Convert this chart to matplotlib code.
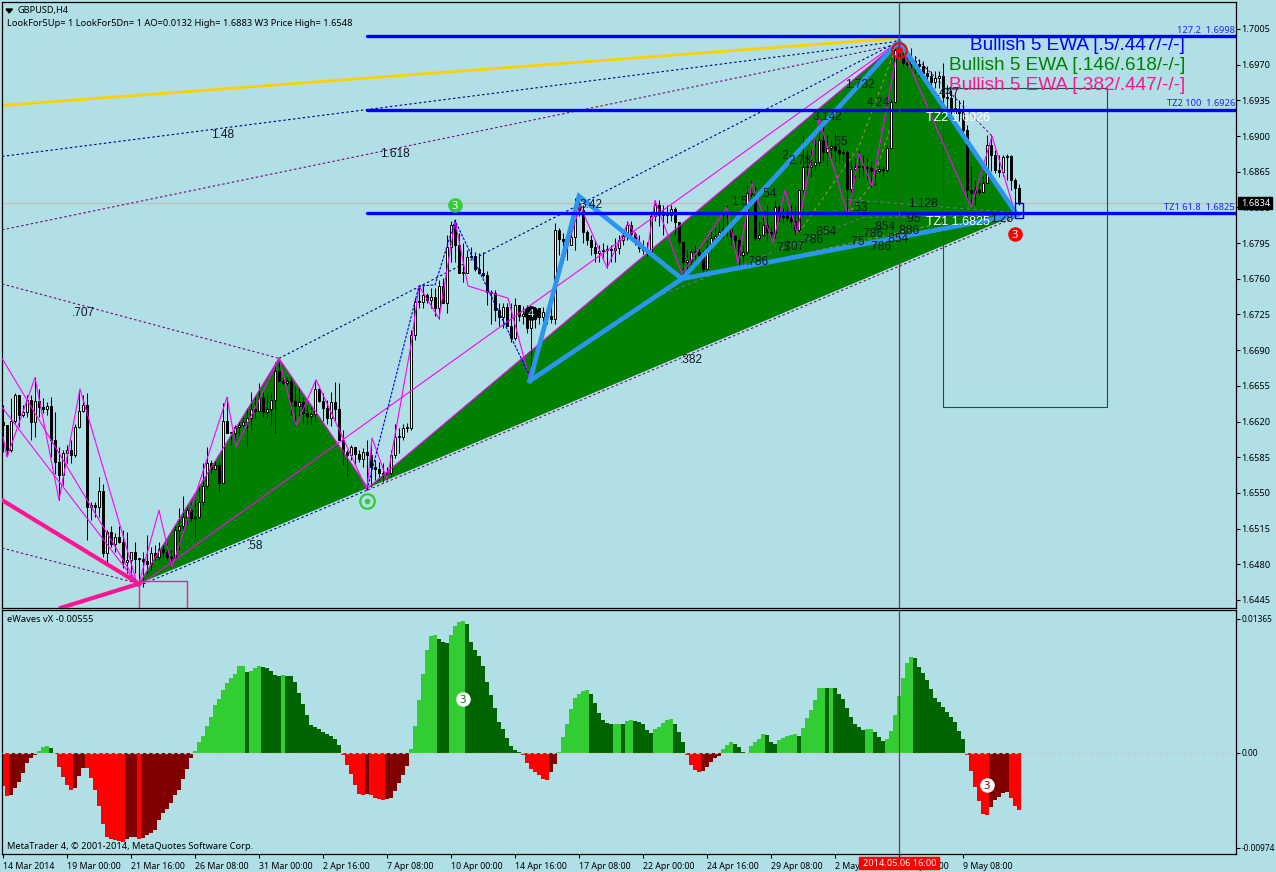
import matplotlib
matplotlib.use("Agg")
import matplotlib.pyplot as plt
from matplotlib.patches import Rectangle
import numpy as np

# ---- data: GBPUSD H4 candles, prices x 10000 ----
closes = [
16617,16592,16621,16646,16626,16629,16641,16620,16640,16634,
16632,16635,16602,16580,16568,16589,16592,16587,16615,16630,
16636,16536,16538,16536,16552,16491,16512,16500,16507,16502,
16482,16484,16492,16485,16485,16483,16480,16491,16487,16495,
16492,16487,16486,16514,16518,16526,16533,16525,16526,16541,
16557,16579,16573,16577,16560,16621,16609,16609,16615,16617,
16620,16623,16632,16630,16643,16629,16632,16641,16670,16660,
16658,16660,16640,16635,16639,16628,16625,16627,16652,16640,
16633,16623,16639,16632,16602,16590,16587,16595,16588,16583,
16590,16587,16575,16573,16570,16569,16570,16587,16605,16605,
16614,16614,16705,16737,16737,16744,16739,16742,16731,16753,
16736,16791,16813,16793,16766,16766,16781,16782,16770,16766,
16764,16747,16746,16729,16723,16732,16714,16702,16734,16724,
16724,16712,16721,16731,16723,16727,16724,16721,16808,16799,
16797,16793,16801,16830,16827,16806,16798,16791,16785,16787,
16788,16789,16788,16790,16798,16802,16813,16804,16796,16790,
16788,16787,16822,16832,16823,16825,16823,16828,16816,16796,
16776,16778,16786,16786,16783,16770,16791,16800,16802,16806,
16809,16809,16802,16798,16783,16786,16844,16843,16800,16803,
16813,16806,16805,16830,16821,16822,16820,16817,16808,16847,
16870,16870,16872,16875,16896,16884,16888,16890,16886,16883,
16884,16848,16868,16870,16871,16870,16869,16866,16866,16868,
16867,16888,16933,16984,16979,16972,16971,16974,16971,16969,
16962,16959,16953,16957,16959,16938,16937,16928,16923,16924,
16906,16847,16844,16847,16845,16854,16891,16881,16867,16865,
16879,16880,16857,16849,16834]
highs = [
16636,16617,16643,16648,16646,16636,16646,16646,16664,16652,
16643,16639,16644,16629,16595,16592,16597,16602,16618,16651,
16646,16648,16541,16541,16566,16559,16514,16518,16511,16518,
16514,16512,16492,16502,16485,16492,16509,16497,16499,16502,
16499,16502,16494,16518,16535,16547,16536,16540,16543,16558,
16579,16595,16582,16581,16580,16638,16644,16609,16617,16621,
16624,16633,16649,16644,16658,16649,16646,16649,16678,16682,
16663,16664,16663,16655,16653,16644,16636,16634,16661,16653,
16648,16641,16649,16659,16658,16612,16592,16597,16595,16592,
16594,16602,16597,16582,16580,16579,16575,16592,16618,16614,
16618,16619,16710,16741,16753,16753,16746,16751,16751,16759,
16761,16803,16817,16819,16805,16795,16788,16791,16786,16785,
16786,16768,16749,16749,16736,16736,16736,16736,16741,16732,
16733,16734,16729,16732,16731,16732,16732,16734,16815,16810,
16805,16805,16808,16839,16837,16832,16808,16803,16798,16793,
16795,16793,16793,16800,16803,16808,16817,16817,16806,16803,
16798,16796,16824,16837,16837,16832,16832,16832,16830,16815,
16796,16788,16790,16793,16790,16788,16798,16806,16810,16815,
16825,16832,16812,16803,16800,16793,16852,16857,16851,16817,
16822,16832,16815,16837,16832,16829,16830,16832,16832,16847,
16900,16886,16886,16906,16911,16915,16901,16896,16903,16891,
16888,16886,16876,16878,16886,16881,16878,16876,16871,16871,
16871,16891,16935,16994,16993,16984,16984,16986,16979,16976,
16974,16969,16964,16964,16964,16972,16950,16945,16940,16935,
16935,16911,16871,16857,16854,16861,16901,16901,16886,16881,
16881,16882,16881,16859,16853]
lows = [
16590,16587,16590,16619,16615,16624,16624,16602,16605,16624,
16628,16626,16585,16569,16543,16558,16579,16579,16585,16614,
16629,16504,16523,16526,16526,16487,16479,16497,16492,16501,
16476,16471,16468,16471,16458,16458,16470,16474,16484,16484,
16487,16484,16477,16487,16494,16514,16520,16521,16506,16526,
16538,16555,16570,16572,16551,16560,16609,16597,16602,16607,
16615,16595,16612,16623,16638,16624,16623,16618,16609,16659,
16656,16656,16626,16616,16624,16618,16618,16618,16621,16639,
16621,16618,16616,16621,16602,16577,16567,16582,16577,16580,
16575,16553,16556,16563,16563,16561,16563,16566,16584,16589,
16602,16610,16612,16700,16731,16731,16736,16731,16724,16721,
16736,16726,16776,16776,16766,16757,16773,16780,16768,16765,
16762,16734,16716,16719,16714,16712,16714,16698,16700,16719,
16716,16707,16662,16712,16716,16717,16716,16717,16716,16783,
16780,16778,16793,16788,16822,16795,16793,16783,16776,16776,
16780,16771,16776,16776,16784,16793,16798,16798,16793,16786,
16784,16782,16788,16817,16812,16803,16815,16817,16803,16793,
16763,16763,16768,16772,16778,16763,16770,16786,16793,16798,
16800,16802,16793,16788,16773,16776,16783,16840,16798,16798,
16803,16798,16798,16800,16817,16815,16817,16810,16803,16806,
16845,16859,16860,16866,16871,16876,16871,16878,16876,16874,
16876,16822,16839,16859,16859,16861,16857,16849,16852,16864,
16861,16864,16889,16933,16972,16969,16966,16964,16962,16959,
16957,16950,16947,16947,16947,16920,16925,16915,16913,16915,
16901,16837,16832,16832,16842,16845,16855,16866,16864,16860,
16861,16857,16847,16824,16832]
first_open = 16620

# ---- eWaves oscillator, in units of 3.4e-5 ----
osc_unit = 3.4e-5
osc_values = [
-100,-130,-128,-107,-88,-62,-32,-17,-7,5,
17,19,13,-5,-43,-73,-98,-113,-107,-70,
-45,-47,-77,-113,-160,-215,-254,-260,-262,-265,
-268,-260,-254,-252,-258,-256,-247,-240,-232,-202,
-182,-169,-152,-127,-113,-80,-50,-17,6,31,
49,79,106,142,160,187,208,223,235,259,
260,241,245,253,259,256,255,244,232,229,
232,231,229,211,178,145,112,82,76,70,
61,55,49,40,22,-7,-38,-65,-97,-125,
-127,-125,-127,-137,-140,-143,-140,-137,-116,-92,
-68,-41,10,79,157,235,307,349,352,340,
331,330,352,379,391,394,385,331,307,289,
259,211,172,133,91,70,43,19,7,3,
-7,-30,-48,-59,-68,-80,-81,-59,-35,2,
46,85,130,163,175,184,187,175,148,118,
97,88,85,86,87,86,94,97,96,91,
85,67,58,70,76,88,97,100,85,61,
31,-7,-38,-53,-59,-56,-44,-29,-17,-10,
10,22,31,25,16,1,-2,19,31,40,
55,52,31,25,37,43,49,52,55,49,
73,103,127,157,193,194,193,194,193,175,
160,133,106,85,76,67,70,71,61,46,
34,40,64,112,169,223,268,286,283,256,
238,217,190,163,151,136,121,106,91,64,
40,-7,-56,-104,-146,-185,-188,-164,-143,-134,
-122,-119,-137,-161,-173]

# ---- tick labels ----
date_labels = ["14 Mar 2014","19 Mar 00:00","21 Mar 16:00","26 Mar 08:00","31 Mar 00:00",
               "2 Apr 16:00","7 Apr 08:00","10 Apr 00:00","14 Apr 16:00","17 Apr 08:00",
               "22 Apr 00:00","24 Apr 16:00","29 Apr 08:00","2 May 00:00","6 May 16:00","9 May 08:00"]
price_ticks = [16445 + 35*k for k in range(17)]
osc_ticks = [0.01365, 0.0, -0.00974]
osc_ticklabels = ["0.01365", "0.00", "-0.00974"]

# ---- pattern anchors (bar index, price x 10000) ----
tri1_bar = [34, 69, 91.25];        tri1_p = [16461, 16682, 16555]
tri2_bar = [91.25, 224, 253.5];    tri2_p = [16555, 16993, 16823]
wave_bar = [131.75, 144, 169.75, 224, 253.5, 169.75, 131.75]
wave_p   = [16660, 16841, 16760, 16993, 16823, 16760, 16660]
zig_bar = [0,1,8,14,19.25,33.75,39,42.25,56,58.25,69,73.25,78.25,91,92.25,96,102,104,109,113,
           116.25,126.25,131.5,144.25,151,156.25,161,163,169.75,181,183.75,187.25,192.5,195.5,
           198.5,204,211.25,214,217.25,224,242,247.25,253]
zig_p = [16605,16585,16663,16543,16652,16458,16533,16477,16644,16595,16682,16616,16661,16553,
         16604,16563,16695,16753,16721,16817,16753,16741,16664,16832,16771,16815,16785,16837,
         16765,16830,16775,16854,16795,16847,16805,16917,16822,16883,16851,16993,16830,16900,16825]
thin_bar = [91, 104, 108, 113, 131.75]
thin_p = [16553, 16753, 16754, 16817, 16664]
level_prices = [16998, 16926, 16825]
current_price = 16834

plt.rcParams['font.family'] = ['Noto Sans', 'DejaVu Sans']
BG = "#B0E0E6"
W, H = 1276, 872
fig = plt.figure(figsize=(W/100, H/100), dpi=100, facecolor=BG)

def box(l, t, r, b):
    return [l/W, 1-b/H, (r-l)/W, (b-t)/H]

ax1 = fig.add_axes(box(2, 2, 1236, 608), facecolor=BG)
ax2 = fig.add_axes(box(2, 610, 1236, 854), facecolor=BG)
XLIM = (-0.25, 308.25)
SC = 10196/1e4  # pixels per price unit x 1e4
top_p = 17005 + (29-2)/SC
bot_p = 17005 - (608-29)/SC
ax1.set_xlim(*XLIM); ax1.set_ylim(bot_p, top_p)
ax2.set_xlim(*XLIM); ax2.set_ylim(-(854-752.5)*1.02e-4, (752.5-610)*1.02e-4)

closes_a = np.array(closes, float)
opens_a = np.r_[first_open, closes_a[:-1]]
highs_a = np.maximum.reduce([np.array(highs, float), opens_a, closes_a])
lows_a = np.minimum.reduce([np.array(lows, float), opens_a, closes_a])
bars = np.arange(len(closes_a))

ax1.axhline(current_price, color="#C4BEBE", lw=1, zorder=1)
ax1.fill(tri1_bar, tri1_p, color="#008000", lw=0, zorder=1.5)
ax1.fill(tri2_bar, tri2_p, color="#008000", lw=0, zorder=1.5)

def ln(bx, py, color, lw=1, ls='-', z=2.5):
    ax1.plot(bx, py, color=color, lw=lw, ls=ls, zorder=z, solid_capstyle='round')

dots = (0, (2.2, 2.2))
ln([-0.25, 224], [16930, 16996], "#FFD000", 2.0)
ln([-0.25, 224], [16880, 16993], "#000080", 0.8, dots)
ln([-0.25, 224], [16808, 16990], "#800080", 0.8, dots)
ln([-0.25, 69], [16755, 16682], "#800080", 0.8, dots)
ln([69, 224], [16682, 16993], "#000080", 0.8, dots)
ln([-0.25, 34], [16496, 16461], "#800080", 0.8, dots)
ln([34, 91.25], [16459, 16553], "#0000A0", 0.8, dots)
ln([91.25, 253.5], [16553, 16821], "#800080", 0.8, dots)
ln([228, 247.25], [16978, 16900], "#800080", 0.8, dots)
ln([199, 214, 223], [16805, 16890, 16985], "#A08A50", 0.8, (0,(3,3)))
ln([211, 217, 222], [16822, 16852, 16910], "#A08A50", 0.8, (0,(3,3)))
ln([174, 235], [16762, 16815], "#A08A50", 0.8, (0,(3,3)))
ln([211, 230, 253], [16838, 16832, 16825], "#6A6A8A", 0.8, (0,(3,3)))
ln([165, 215, 253], [16745, 16820, 16823], "#6A6A8A", 0.8, (0,(3,3)))

# candles
ax1.vlines(bars, lows_a, highs_a, color="black", lw=0.75, zorder=3)
up = closes_a >= opens_a
hgt = np.maximum(np.abs(closes_a-opens_a), 1.0)
base = np.minimum(opens_a, closes_a)
ax1.bar(bars, hgt, bottom=base, width=0.5, color=np.where(up, "white", "black").tolist(),
        edgecolor="black", linewidth=0.7, zorder=3.2)

# magenta structure
ln([-0.25, 33.75], [16682, 16460], "#FF00FF", 0.8, z=4)
ln([-0.25, 33.75], [16634, 16460], "#FF00FF", 0.8, z=4)
ln([34, 224], [16459, 16993], "#FF00FF", 0.8, z=4)
ln([91.25, 224], [16555, 16993], "#FF00FF", 0.8, z=4)
ln(zig_bar, zig_p, "#FF00FF", 0.8, z=4)
ln(tri1_bar[:2], tri1_p[:2], "#FF00FF", 0.8, z=4)
ln(tri1_bar[1:], tri1_p[1:], "#FF00FF", 0.8, z=4)
ln(thin_bar, thin_p, "#0000E0", 0.8, (0,(2.5,1.2)), z=4)
ln([-0.25, 34], [16543, 16461], "#FF1493", 3.0, z=4.5)
ln([14.25, 34], [16437, 16461], "#FF1493", 3.0, z=4.5)
ax1.add_patch(Rectangle((34, 16430), 12, 16464-16430, fill=False, ec="#FF1493", lw=1, zorder=4))
ax1.add_patch(Rectangle((235, 16634), 41, 16947-16634, fill=False, ec="#0B5A38", lw=0.8, zorder=2.4))
ax1.plot(wave_bar, wave_p, color="#2A96F0", lw=3.4, zorder=5, solid_joinstyle='miter')
ax1.add_patch(Rectangle((253, 16820), 2, 14, fill=False, ec="#0000C0", lw=1, zorder=6))
for lv in level_prices:
    ln([91, 308.25], [lv, lv], "#0000FF", 2.4, z=6)

# cursor
for a in (ax1, ax2):
    a.axvline(224, color="#8A3030", lw=0.9, zorder=7)

# icons
def icon(a, x, y, fc, ec, size, txt=None, tc="white", ew=0):
    a.plot([x], [y], 'o', ms=size, mfc=fc, mec=ec, mew=ew, zorder=8)
    if txt:
        a.text(x, y, txt, color=tc, fontsize=8, fontweight='bold', ha='center', va='center_baseline', zorder=9)

icon(ax1, 113, 16832, "#32CD32", "#32CD32", 10.5, "3")
icon(ax1, 91, 16542, "none", "#32CD32", 10.5, ew=1.6)
icon(ax1, 91, 16542, "#32CD32", "#32CD32", 4)
icon(ax1, 253, 16804, "#FF0000", "#FF0000", 10.5, "3")
icon(ax1, 224, 16984, "none", "#FF0000", 10.5, ew=1.5)
icon(ax1, 224, 16984, "#FF0000", "#FF0000", 5)
icon(ax1, 132, 16726, "#000000", "#000000", 10.5, "4", tc="#B8E8F0")
icon(ax2, 115, 0.00546, "white", "white", 10.5, "3", tc="#008000")
icon(ax2, 246, -0.00332, "white", "white", 10.5, "3", tc="#A00000")

# oscillator
osc = np.array(osc_values) * osc_unit
prev = np.r_[osc[0]+1, osc[:-1]]
def ocol(v, p):
    if v >= 0:
        return "#32CD32" if v > p else "#006400"
    return "#FF0000" if v < p else "#800000"
ax2.bar(np.arange(len(osc)), osc, width=1.0, color=[ocol(v, p) for v, p in zip(osc, prev)],
        linewidth=0, antialiased=False, zorder=2)
ax2.axhline(0, color="#C8C8C8", lw=0.9, ls=(0, (2.5, 2.5)), zorder=3)

# axes styling
small = 6.6
for a in (ax1, ax2):
    for s in a.spines.values():
        s.set_linewidth(0.9); s.set_color("black")
    a.yaxis.tick_right()
    a.tick_params(axis='y', length=3, width=0.8, pad=1, labelsize=small, direction='out', colors='black')
ax2.tick_params(axis='y', labelsize=6.0)
ax1.set_xticks([])
ax1.set_yticks(price_ticks)
ax1.set_yticklabels([f"{p/1e4:.4f}" for p in price_ticks])
ax2.set_yticks(osc_ticks)
ax2.set_yticklabels(osc_ticklabels)
ax2.get_yticklabels()[1].set_fontweight('bold')
date_pos = np.arange(len(date_labels)) * 16
ax2.set_xticks(date_pos)
ax2.set_xticklabels(date_labels, ha='left')
ax2.tick_params(axis='x', length=3, width=0.8, pad=3, labelsize=6.35)

# text, placed on the canvas
def T(px, py, s, size=small, color="black", ha='left', fam=None, z=20, **kw):
    fig.text(px/W, 1-py/H, s, fontsize=size, color=color, ha=ha, va='center',
             family=fam or ['Noto Sans', 'DejaVu Sans'], zorder=z, **kw)

T(18, 10.5, "GBPUSD,H4")
fig.patches.append(plt.Polygon([(6/W, 1-9/H), (12.5/W, 1-9/H), (9.2/W, 1-13/H)], closed=True,
                               color="black", transform=fig.transFigure))
T(7, 23.5, "LookFor5Up= 1 LookFor5Dn= 1 AO=0.0132 High= 1.6883 W3 Price High= 1.6548", size=6.7)
T(7, 619.5, "eWaves vX -0.00555", size=6.7)
T(7, 846, "MetaTrader 4, © 2001-2014, MetaQuotes Software Corp.", size=6.7)

AR = 'Liberation Sans'
for s, y, c in [("Bullish 5 EWA [.5/.447/-/-]", 45.5, "#0000FF"),
                ("Bullish 5 EWA [.146/.618/-/-]", 65.5, "#008000"),
                ("Bullish 5 EWA [.382/.447/-/-]", 85.5, "#FF1493")]:
    T(1185, y, s, size=13.7, color=c, ha='right', fam=AR)

for s, y in [("127.2  1.6998", 30.5), ("TZ2 100  1.6926", 103), ("TZ1 61.8  1.6825", 207.5)]:
    T(1235, y, s, size=6.7, color="#2020FF", ha='right')

labels = [("1.48",223,135),("1.618",395,154),(".707",83,313),(".58",255,546),(".382",691,360),
          ("3.42",591,205),("1.5",739,202),(".54",769,194),("1.732",860,85),("4.24",878,103),
          ("3.142",827,117),(".65",840,142),("2",785,156),("2.78",800,161),(".53",860,208),
          ("1.128",923,204),(".95",913,219),("1.28",1002,219),(".854",825,232),(".854",884,227),
          (".786",812,240),(".786",872,234),(".786",880,247),(".886",908,231),(".854",897,239),
          (".75",857,242),(".707",793,247),(".75",783,248),(".786",757,262),(".447",948,93)]
for s, x, y in labels:
    T(x, y, s, size=8.6, color="#101828", ha='center', fam=AR)
T(958, 118, "TZ2 1.6926", size=9, color="white", ha='center', fam=AR, z=21)
T(958, 222, "TZ1 1.6825", size=9, color="white", ha='center', fam=AR, z=21)

# price and time flags
fig.patches.append(Rectangle((1238/W, 1-209.5/H), 34/W, 12/H, color="black", transform=fig.transFigure))
T(1241, 203.5, f"{current_price/1e4:.4f}", color="white")
fig.patches.append(Rectangle((859/W, 1-869/H), 80/W, 12/H, color="#FF0000", transform=fig.transFigure, zorder=15))
T(863, 863, "2014.05.06 16:00", color="white", z=21)

fig.savefig("out.png", dpi=100, facecolor=BG)
